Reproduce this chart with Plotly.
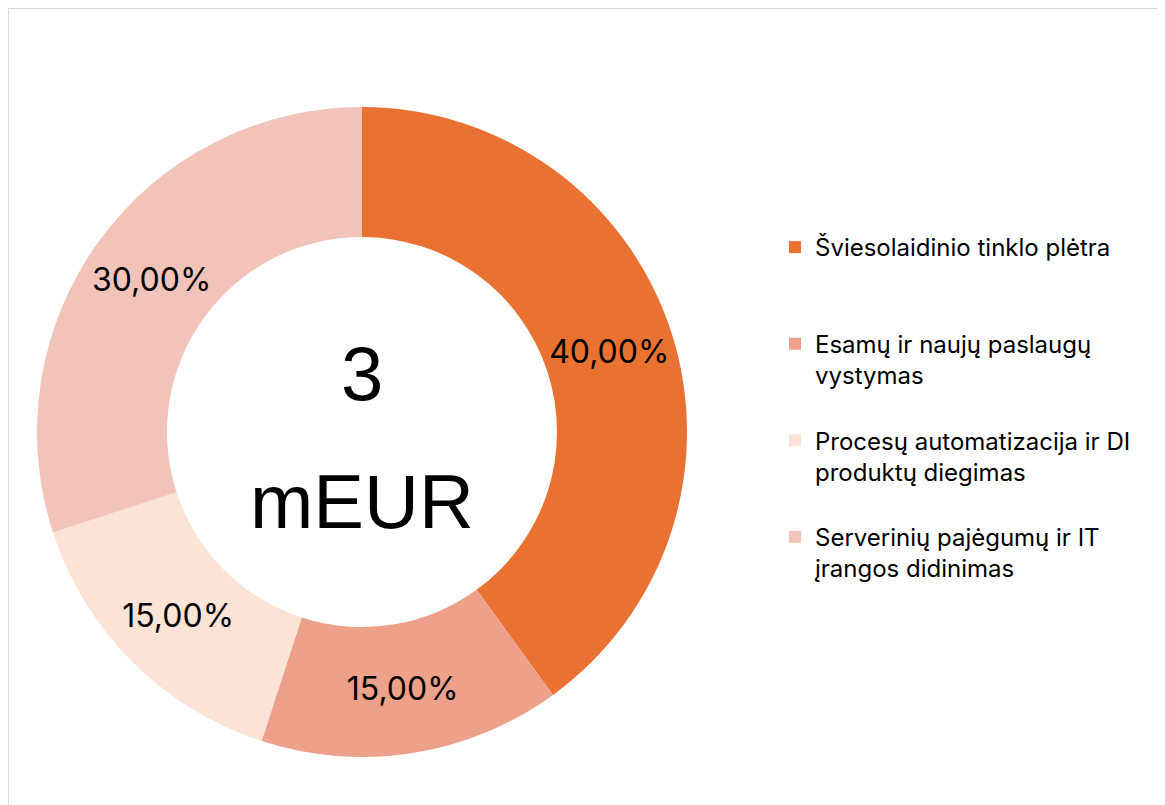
import plotly.graph_objects as go

labels = [
    "Šviesolaidinio tinklo plėtra",
    "Esamų ir naujų paslaugų<br>vystymas",
    "Procesų automatizacija ir DI<br>produktų diegimas",
    "Serverinių pajėgumų ir IT<br>įrangos didinimas",
]
values = [40, 15, 15, 30]
colors = ["#E97132", "#EEA18A", "#FBE3D6", "#F2C4B9"]
center_value = "3"
center_unit = "mEUR"

# pad legend entries so every item occupies the same vertical slot
legend_labels = []
for lab in labels:
    n = lab.count("<br>") + 1
    legend_labels.append(lab + "<br> " * (3 - n))

W, H = 1165, 805
cx, cy, R = 354, 424, 325

fig = go.Figure(
    go.Pie(
        labels=legend_labels,
        values=values,
        sort=False,
        direction="clockwise",
        rotation=0,
        hole=0.6,
        marker=dict(colors=colors, line=dict(width=0)),
        texttemplate="%{percent:.2%}",
        textposition="inside",
        insidetextorientation="horizontal",
        insidetextfont=dict(family="Inter", size=32, color="#000000"),
        domain=dict(x=[(cx - R) / W, (cx + R) / W], y=[(H - cy - R) / H, (H - cy + R) / H]),
        hoverinfo="label+percent",
    )
)

fig.update_layout(
    width=W,
    height=H,
    margin=dict(l=0, r=0, t=0, b=0),
    paper_bgcolor="white",
    separators=",.",
    showlegend=True,
    legend=dict(
        x=767 / W,
        y=1 - 217 / H,
        xanchor="left",
        yanchor="top",
        valign="top",
        font=dict(family="Inter", size=24, color="#000000"),
        bgcolor="rgba(0,0,0,0)",
        traceorder="normal",
    ),
    annotations=[
        dict(text=center_value, x=cx / W, y=1 - 365 / H, xref="paper", yref="paper",
             showarrow=False, xanchor="center", yanchor="middle",
             font=dict(family="Liberation Sans", size=76, color="#000000")),
        dict(text=center_unit, x=cx / W, y=1 - 493 / H, xref="paper", yref="paper",
             showarrow=False, xanchor="center", yanchor="middle",
             font=dict(family="Liberation Sans", size=76, color="#000000")),
    ],
    shapes=[
        dict(type="rect", xref="paper", yref="paper",
             x0=0, x1=1.01, y0=-0.01, y1=1,
             line=dict(color="#D9D9D9", width=2), fillcolor="rgba(0,0,0,0)", layer="below"),
    ],
)

fig.write_html("out.html")
